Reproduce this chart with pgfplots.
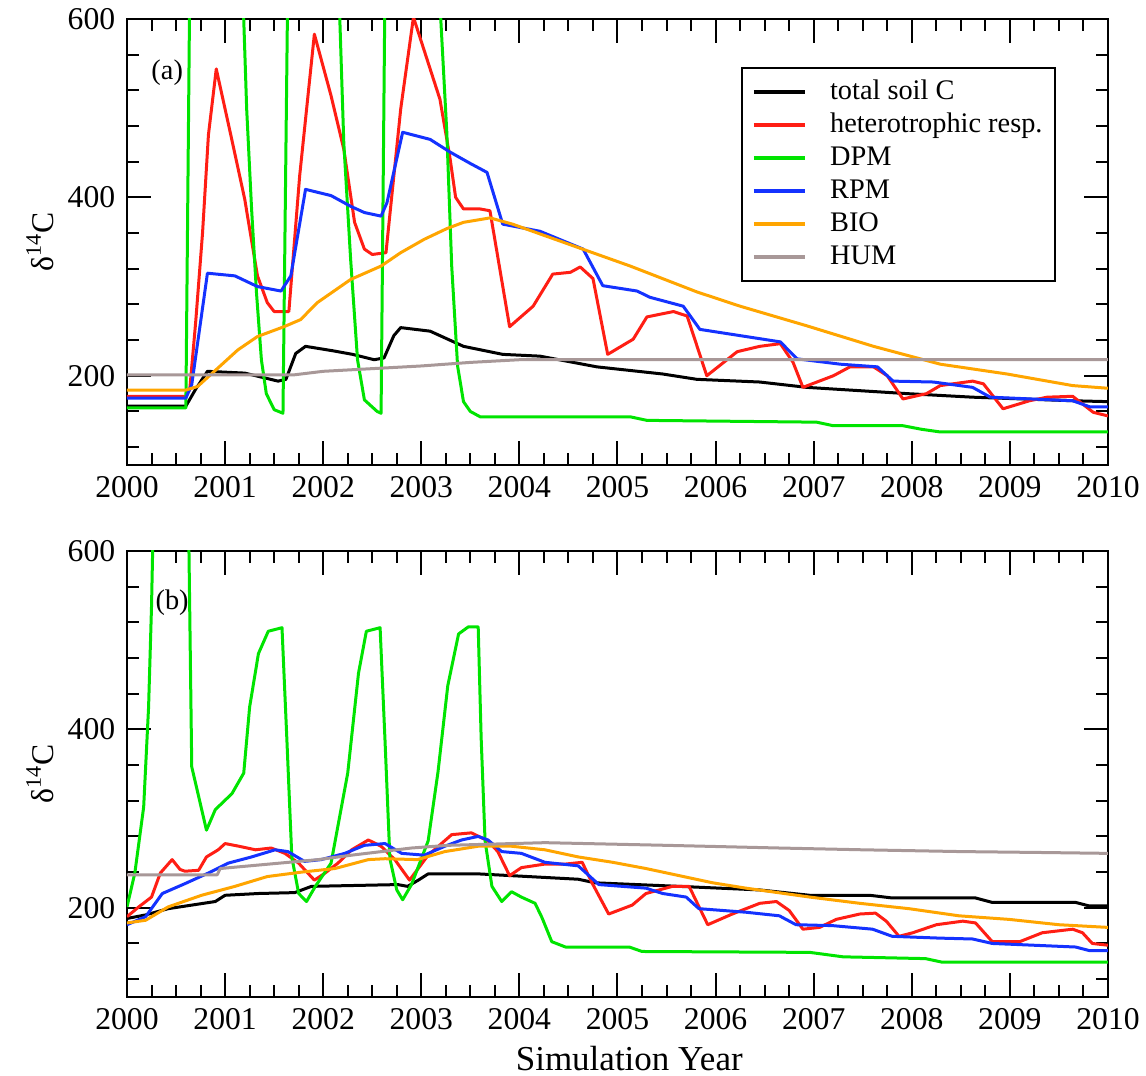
\documentclass[border=0pt]{standalone}
\usepackage{fontspec}
\setmainfont{Liberation Serif}
\usepackage{pgfplots}
\pgfplotsset{compat=1.18}
\definecolor{cblack}{RGB}{0,0,0}
\definecolor{cred}{RGB}{255,30,20}
\definecolor{cgreen}{RGB}{0,228,0}
\definecolor{cblue}{RGB}{20,50,255}
\definecolor{corange}{RGB}{255,165,0}
\definecolor{cgray}{RGB}{168,152,152}
\pgfplotsset{myax/.style={
  scale only axis, width=294.3pt, height=133.8pt,
  xmin=2000, xmax=2010, ymin=100, ymax=600,
  xtick={2000,2001,2002,2003,2004,2005,2006,2007,2008,2009,2010},
  minor x tick num=3,
  ytick={200,400,600},
  minor ytick={120,160,240,280,320,360,440,480,520,560},
  major tick length=7.3pt, minor tick length=3.6pt,
  axis line style={line width=0.6pt},
  tick style={black, line width=0.6pt},
  /pgf/number format/1000 sep={},
  /pgf/number format/assume math mode=true,
  ticklabel style={font=\fontsize{9.5}{11}\selectfont},
  ylabel={δ\textsuperscript{14}C},
  ylabel style={at={(axis description cs:-0.0887,0.5)}, anchor=center, font=\fontsize{9.5}{11}\selectfont},
  every axis plot/.append style={line width=0.9pt, line join=round},
  legend image code/.code={\draw[#1, line width=1pt] (0pt,0pt) -- (15.3pt,0pt);},
}}
\begin{document}
\begin{tikzpicture}
\useasboundingbox (0,0) rectangle (343.8pt,322.8pt);
% ---------------- panel (a)
\begin{axis}[myax, at={(38.1pt,183.3pt)}, anchor=south west,
  legend cell align=left,
  legend style={at={(axis description cs:0.626,0.892)}, anchor=north west,
    font=\fontsize{8.5}{10}\selectfont, draw=black, line width=0.6pt,
    inner xsep=3pt, inner ysep=2.5pt, row sep=0.6pt, column sep=6.5pt,
    nodes={inner sep=0.6pt, text height=6.3pt, text depth=1.8pt}}]
\addplot[cblack] coordinates {(2000,166)(2000.6,166)(2000.7,185)(2000.82,205)(2001.2,203)(2001.54,194)(2001.62,196)(2001.72,225)(2001.82,233)(2002.1,228)(2002.3,224)(2002.52,218)(2002.62,220)(2002.72,245)(2002.79,254)(2003.09,250)(2003.43,233)(2003.83,224)(2004.21,222)(2004.79,210)(2005.46,202)(2005.81,196)(2006.45,193)(2006.93,187)(2007.95,180)(2008.62,176)(2009.64,172)(2010,171)};
\addlegendentry{total soil C}
\addplot[cred] coordinates {(2000,177)(2000.6,177)(2000.64,185)(2000.7,260)(2000.77,360)(2000.83,470)(2000.91,544)(2001.06,469)(2001.2,398)(2001.33,312)(2001.43,282)(2001.5,272)(2001.65,272)(2001.76,424)(2001.91,583)(2002.08,514)(2002.21,454)(2002.32,372)(2002.42,342)(2002.5,336)(2002.64,338)(2002.79,499)(2002.92,602)(2003.19,510)(2003.29,446)(2003.35,400)(2003.43,387)(2003.6,387)(2003.7,385)(2003.9,255)(2004.14,278)(2004.34,314)(2004.52,316)(2004.62,322)(2004.75,309)(2004.9,224)(2005.16,241)(2005.3,266)(2005.57,272)(2005.71,267)(2005.91,200)(2006.22,227)(2006.45,233)(2006.66,236)(2006.79,215)(2006.89,187)(2007.2,200)(2007.37,210)(2007.61,210)(2007.75,200)(2007.91,174)(2008.15,180)(2008.29,189)(2008.62,194)(2008.73,191)(2008.93,163)(2009.2,172)(2009.38,176)(2009.64,177)(2009.85,159)(2010,155)};
\addlegendentry{heterotrophic resp.}
\addplot[cgreen] coordinates {(2000,164)(2000.6,164)(2000.645,700)(2001.16,700)(2001.22,499)(2001.27,387)(2001.32,293)(2001.37,218)(2001.42,180)(2001.5,162)(2001.59,158)(2001.645,700)(2002.14,700)(2002.21,461)(2002.28,330)(2002.35,218)(2002.42,173)(2002.55,160)(2002.59,158)(2002.635,700)(2003.15,700)(2003.26,473)(2003.31,323)(2003.37,211)(2003.43,171)(2003.5,160)(2003.6,154)(2005.13,154)(2005.3,150)(2007.03,148)(2007.2,144)(2007.91,144)(2008.1,140)(2008.29,137)(2010,137)};
\addlegendentry{DPM}
\addplot[cblue] coordinates {(2000,175)(2000.6,175)(2000.66,190)(2000.82,315)(2001.1,312)(2001.33,300)(2001.57,295)(2001.67,312)(2001.82,409)(2002.08,402)(2002.28,390)(2002.42,383)(2002.59,379)(2002.65,394)(2002.81,473)(2003.09,465)(2003.29,451)(2003.5,438)(2003.67,428)(2003.83,370)(2004.21,362)(2004.65,342)(2004.85,301)(2005.2,295)(2005.33,288)(2005.67,278)(2005.84,252)(2006.25,245)(2006.66,238)(2006.83,219)(2007.27,213)(2007.65,210)(2007.81,194)(2008.22,193)(2008.62,187)(2008.8,176)(2009.64,172)(2009.82,165)(2010,165)};
\addlegendentry{RPM}
\addplot[corange] coordinates {(2000,184)(2000.6,184)(2000.72,188)(2000.93,209)(2001.13,229)(2001.33,244)(2001.6,255)(2001.77,263)(2001.94,282)(2002.28,308)(2002.59,323)(2002.79,338)(2003.03,353)(2003.26,365)(2003.43,372)(2003.7,377)(2003.93,370)(2004.44,350)(2005.13,323)(2005.81,294)(2006.25,278)(2006.93,256)(2007.61,233)(2008.29,213)(2008.97,202)(2009.64,189)(2010,186)};
\addlegendentry{BIO}
\addplot[cgray] coordinates {(2000,201)(2001.7,201)(2002.0,205)(2002.5,208)(2003.0,211)(2003.5,215)(2004.0,218)(2010,218)};
\addlegendentry{HUM}
\node[font=\fontsize{8.5}{10}\selectfont] at (rel axis cs:0.041,0.879) {(a)};
\end{axis}
% ---------------- panel (b)
\begin{axis}[myax, at={(38.1pt,23.7pt)}, anchor=south west,
  xlabel={Simulation Year},
  xlabel style={at={(axis description cs:0.512,-0.137)}, anchor=center, font=\fontsize{10.5}{12}\selectfont}]
\addplot[cblack] coordinates {(2000,188)(2000.19,192)(2000.42,199)(2000.66,203)(2000.9,207)(2001,214)(2001.34,216)(2001.71,217)(2001.88,224)(2002.76,226)(2002.86,224)(2002.97,231)(2003.07,238)(2003.58,238)(2003.92,236)(2004.6,232)(2004.77,228)(2005.63,224)(2006.45,220)(2006.96,214)(2007.57,214)(2007.8,211)(2008.65,211)(2008.82,206)(2009.67,206)(2009.81,202)(2010,202)};
\addplot[cred] coordinates {(2000,190)(2000.12,201)(2000.25,212)(2000.34,239)(2000.46,254)(2000.54,243)(2000.59,241)(2000.73,242)(2000.81,257)(2000.93,265)(2001,272)(2001.14,269)(2001.31,265)(2001.47,267)(2001.61,261)(2001.75,250)(2001.91,231)(2002.02,239)(2002.15,250)(2002.29,265)(2002.46,276)(2002.59,269)(2002.73,254)(2002.88,231)(2003.07,259)(2003.31,282)(2003.51,284)(2003.68,275)(2003.78,263)(2003.9,236)(2004.02,245)(2004.26,249)(2004.47,249)(2004.64,251)(2004.74,228)(2004.91,193)(2005.15,203)(2005.29,216)(2005.56,224)(2005.73,224)(2005.92,181)(2006.17,193)(2006.45,205)(2006.62,207)(2006.75,197)(2006.89,176)(2007.06,178)(2007.23,187)(2007.47,193)(2007.63,194)(2007.74,185)(2007.87,168)(2008.01,172)(2008.25,181)(2008.52,185)(2008.65,183)(2008.82,162)(2009.1,162)(2009.33,172)(2009.64,176)(2009.74,172)(2009.84,160)(2010,158)};
\addplot[cgreen] coordinates {(2000,201)(2000.08,239)(2000.17,313)(2000.22,425)(2000.25,538)(2000.28,700)(2000.62,700)(2000.66,358)(2000.73,325)(2000.81,287)(2000.9,310)(2001.07,328)(2001.19,351)(2001.25,425)(2001.34,485)(2001.44,510)(2001.58,514)(2001.63,388)(2001.68,257)(2001.75,216)(2001.83,207)(2001.92,224)(2002.08,250)(2002.25,351)(2002.36,463)(2002.44,510)(2002.58,514)(2002.63,388)(2002.68,255)(2002.75,220)(2002.81,209)(2002.9,226)(2003.07,275)(2003.17,352)(2003.27,449)(2003.38,507)(2003.48,515)(2003.58,515)(2003.61,391)(2003.65,275)(2003.72,224)(2003.82,207)(2003.92,218)(2004.02,212)(2004.16,205)(2004.23,189)(2004.33,162)(2004.47,156)(2005.12,156)(2005.25,151)(2006.96,150)(2007.3,145)(2008.14,143)(2008.31,139)(2010,139)};
\addplot[cblue] coordinates {(2000,181)(2000.19,190)(2000.36,216)(2000.59,227)(2000.83,239)(2001.03,250)(2001.27,257)(2001.51,265)(2001.64,263)(2001.81,252)(2001.98,254)(2002.22,261)(2002.42,270)(2002.63,272)(2002.8,261)(2003.03,259)(2003.24,269)(2003.41,276)(2003.58,280)(2003.68,276)(2003.82,263)(2004.02,261)(2004.26,251)(2004.6,247)(2004.81,226)(2005.29,222)(2005.46,216)(2005.7,212)(2005.83,199)(2006.31,195)(2006.65,191)(2006.82,181)(2007.19,180)(2007.6,176)(2007.8,168)(2008.28,166)(2008.62,165)(2008.82,160)(2009.67,156)(2009.81,152)(2010,152)};
\addplot[corange] coordinates {(2000,183)(2000.19,186)(2000.42,201)(2000.76,214)(2001.1,224)(2001.43,235)(2001.78,240)(2002.12,244)(2002.46,254)(2002.63,255)(2002.96,254)(2003.24,263)(2003.58,269)(2003.92,269)(2004.26,265)(2004.6,257)(2004.95,251)(2005.29,244)(2005.63,236)(2005.97,228)(2006.31,222)(2006.96,212)(2007.47,205)(2007.97,199)(2008.48,191)(2008.99,187)(2009.5,181)(2010,178)};
\addplot[cgray] coordinates {(2000,237)(2000.92,237)(2000.95,244)(2001.95,254)(2002.29,259)(2002.9,267)(2003.27,270)(2004.26,273)(2005.5,270)(2006.65,267)(2007.5,265)(2008.5,263)(2009.3,262)(2010,261)};
\node[font=\fontsize{8.5}{10}\selectfont] at (rel axis cs:0.046,0.883) {(b)};
\end{axis}
\end{tikzpicture}
\end{document}
